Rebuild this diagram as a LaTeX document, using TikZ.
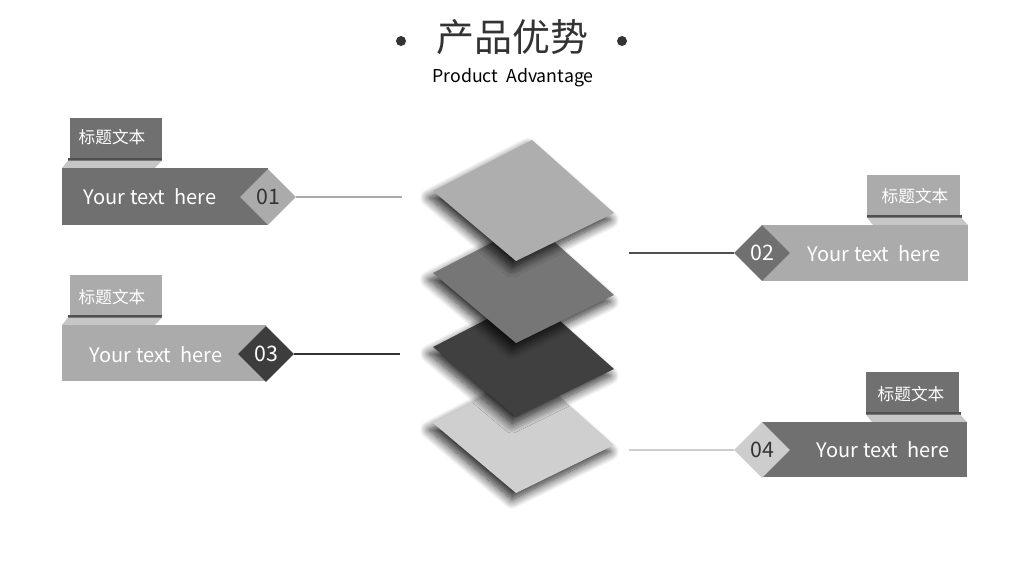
\documentclass[tikz,border=0pt]{standalone}
\usepackage{fontspec}
\setmainfont{Noto Sans CJK SC}
\newfontfamily\cjk{Noto Sans CJK SC}
\usetikzlibrary{shapes.geometric,shadows.blur}
\definecolor{gA}{HTML}{707070}
\definecolor{gB}{HTML}{ABABAB}
\definecolor{gC}{HTML}{3D3D3D}
\definecolor{gD}{HTML}{CDCDCD}
\definecolor{stripc}{HTML}{505050}
\definecolor{bevelc}{HTML}{C6C6C6}
\definecolor{darktext}{HTML}{333333}
\definecolor{layA}{HTML}{AEAEAE}
\definecolor{layB}{HTML}{767676}
\definecolor{layC}{HTML}{404040}
\definecolor{layD}{HTML}{CFCFCF}
\tikzset{
  tabtext/.style={text=white,font=\cjk\fontsize{12.5}{14}\selectfont,inner sep=0pt},
  maintext/.style={text=white,font=\fontsize{15}{18}\selectfont,inner sep=0pt},
  dia/.style={diamond,aspect=1,minimum size=42pt,inner sep=0pt,font=\fontsize{16}{18}\selectfont},
  layer/.style={blur shadow={shadow xshift=-3pt,shadow yshift=-5pt,shadow blur radius=7pt,shadow blur steps=14,shadow opacity=85}},
  conn/.style={line width=1.1pt},
}
\begin{document}
\begin{tikzpicture}[x=0.75pt,y=-0.75pt]
\useasboundingbox (0,0) rectangle (1024,576);
% title
\fill[darktext] (401,41) circle (5);
\fill[darktext] (622,41) circle (5);
\node[text=darktext,font=\cjk\fontsize{28.5}{32}\selectfont] (title) at (512,37) {产品优势};
\node[text=black,font=\fontsize{13.3}{15}\selectfont] (sub) at (513,78) {Product\ \ Advantage};

% layers (bottom first)
\begin{scope}[yshift=-232*0.75pt]
\fill[layer,fill=layD] (433,191) -- (532,140) -- (614,213) -- (516,261) -- cycle;
\end{scope}
\begin{scope}[yshift=-156*0.75pt]
\fill[layer,fill=layC] (433,191) -- (532,140) -- (614,213) -- (516,261) -- cycle;
\end{scope}
\begin{scope}[yshift=-82*0.75pt]
\fill[layer,fill=layB] (433,191) -- (532,140) -- (614,213) -- (516,261) -- cycle;
\end{scope}
\fill[layer,fill=layA] (433,191) -- (532,140) -- (614,213) -- (516,261) -- cycle;

% box 1
\fill[gA] (70,118) rectangle (162,158);
\fill[stripc] (68,158) rectangle (162,160.5);
\fill[bevelc] (62,168) -- (68,160.5) -- (162,160.5) -- (155,168) -- cycle;
\fill[gA] (62,168) rectangle (268,225);
\node[tabtext] (t1) at (112,137) {标题文本};
\node[maintext] (m1) at (150,197) {Your text\ \ here};
\node[dia,fill=gB,text=darktext] (d1) at (268,197) {01};
\coordinate (e1) at (402,197);
\draw[conn,gB] (d1.east) -- (e1);

% box 3
\fill[gB] (70,275) rectangle (162,315);
\fill[stripc] (68,315) rectangle (162,317.5);
\fill[bevelc] (62,325) -- (68,317.5) -- (162,317.5) -- (155,325) -- cycle;
\fill[gB] (62,325) rectangle (266,381);
\node[tabtext] (t3) at (112,297) {标题文本};
\node[maintext] (m3) at (156,355) {Your text\ \ here};
\node[dia,fill=gC,text=white] (d3) at (266,354) {03};
\coordinate (e3) at (400,354);
\draw[conn,darktext] (d3.east) -- (e3);

% box 2
\fill[gB] (867,175) rectangle (960,215);
\fill[stripc] (867,215) rectangle (962,217.5);
\fill[bevelc] (867,217.5) -- (961,217.5) -- (968,225) -- (873,225) -- cycle;
\fill[gB] (762,225) rectangle (968,281);
\node[tabtext] (t2) at (915,196) {标题文本};
\node[maintext] (m2) at (874,254) {Your text\ \ here};
\node[dia,fill=gA,text=white] (d2) at (762,253) {02};
\coordinate (e2) at (629,253);
\draw[conn,stripc] (e2) -- (d2.west);

% box 4
\fill[gA] (866,372) rectangle (959,412);
\fill[stripc] (866,412) rectangle (961,414.5);
\fill[bevelc] (866,414.5) -- (960,414.5) -- (967,422) -- (872,422) -- cycle;
\fill[gA] (762,422) rectangle (967,477);
\node[tabtext] (t4) at (911,394) {标题文本};
\node[maintext] (m4) at (883,450) {Your text\ \ here};
\node[dia,fill=gD,text=darktext] (d4) at (762,450) {04};
\coordinate (e4) at (629,450);
\draw[conn,gD] (e4) -- (d4.west);
\end{tikzpicture}
\end{document}
